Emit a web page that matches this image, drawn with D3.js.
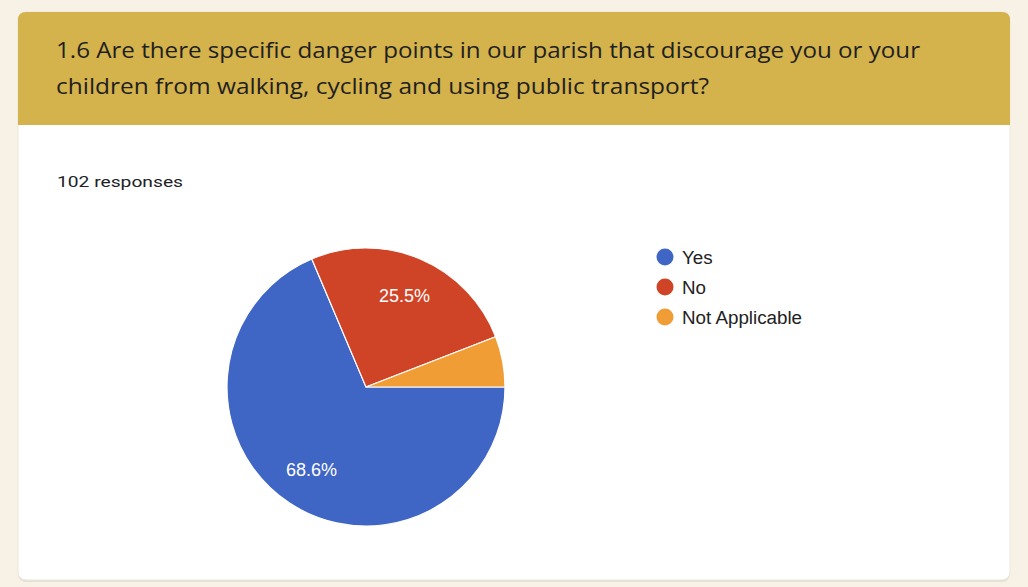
<!DOCTYPE html>
<html><head><meta charset="utf-8">
<script src="https://cdn.jsdelivr.net/npm/d3@7"></script>
<style>
html,body{margin:0;padding:0;background:#f7f2e5;}
svg{display:block;}
</style></head>
<body>
<svg id="chart" width="1028" height="587"></svg>
<script>
const titleLines = ["1.6 Are there specific danger points in our parish that discourage you or your",
                    "children from walking, cycling and using public transport?"];
const responsesLabel = "102 responses";
const categories = ["Yes", "No", "Not Applicable"];
const counts = [70, 26, 6];
const colors = ["#3f65c5", "#cf4327", "#f09d35"];

const svg = d3.select("#chart");
const W = 1028, H = 587;
svg.append("rect").attr("width", W).attr("height", H).attr("fill", "#f7f2e5");

// card
const card = {x: 18, y: 12, w: 992, h: 568, r: 8};
svg.append("rect").attr("x", card.x).attr("y", card.y + 2).attr("width", card.w).attr("height", card.h)
  .attr("rx", card.r).attr("fill", "#e4e0d6");
svg.append("rect").attr("x", card.x).attr("y", card.y).attr("width", card.w).attr("height", card.h)
  .attr("rx", card.r).attr("fill", "#ffffff").attr("stroke", "#ebe7dc").attr("stroke-width", 1);
// header
const headerH = 113;
svg.append("path")
  .attr("d", `M${card.x},${card.y + headerH} V${card.y + card.r} Q${card.x},${card.y} ${card.x + card.r},${card.y} H${card.x + card.w - card.r} Q${card.x + card.w},${card.y} ${card.x + card.w},${card.y + card.r} V${card.y + headerH} Z`)
  .attr("fill", "#d4b24c");

const titleWidths = [864, 653];
svg.selectAll("text.title").data(titleLines).join("text")
  .attr("class", "title")
  .attr("x", 56).attr("y", (d, i) => 58 + i * 36)
  .attr("font-family", "Open Sans, sans-serif").attr("font-size", 22)
  .attr("textLength", (d, i) => titleWidths[i]).attr("lengthAdjust", "spacingAndGlyphs")
  .attr("fill", "#1f1f1f")
  .text(d => d);

svg.append("text").attr("x", 57).attr("y", 187)
  .attr("font-family", "Roboto, sans-serif").attr("font-size", 15.5)
  .attr("textLength", 126).attr("lengthAdjust", "spacingAndGlyphs")
  .attr("fill", "#202124").text(responsesLabel);

// pie
const cx = 366, cy = 387, R = 139;
const data = categories.map((c, i) => ({cat: c, value: counts[i], color: colors[i]}));
const total = d3.sum(counts);
const pie = d3.pie().value(d => d.value).sort(null)
  .startAngle(Math.PI / 2).endAngle(Math.PI / 2 + 2 * Math.PI);
const arc = d3.arc().innerRadius(0).outerRadius(R);
const arcs = pie(data);
const g = svg.append("g").attr("transform", `translate(${cx},${cy})`);
g.selectAll("path").data(arcs).join("path")
  .attr("d", arc).attr("fill", d => d.data.color)
  .attr("stroke", "#ffffff").attr("stroke-width", 1.2);

const labelArc = d3.arc().innerRadius(R * 0.71).outerRadius(R * 0.71);
g.selectAll("text").data(arcs.filter(d => d.data.value / total > 0.1)).join("text")
  .attr("transform", d => `translate(${labelArc.centroid(d)})`)
  .attr("text-anchor", "middle").attr("dy", "0.35em")
  .attr("font-family", "Liberation Sans, Arial, sans-serif").attr("font-size", 18)
  .attr("fill", "#ffffff")
  .text(d => (d.data.value / total * 100).toFixed(1) + "%");

// legend
const lg = svg.append("g").attr("transform", "translate(665,257)");
const items = lg.selectAll("g").data(data).join("g")
  .attr("transform", (d, i) => `translate(0,${i * 30})`);
items.append("circle").attr("r", 8.5).attr("fill", d => d.color);
items.append("text").attr("x", 17).attr("y", 6.5)
  .attr("font-family", "Liberation Sans, Arial, sans-serif").attr("font-size", 18.8)
  .attr("fill", "#222222").text(d => d.cat);
</script>
</body></html>
